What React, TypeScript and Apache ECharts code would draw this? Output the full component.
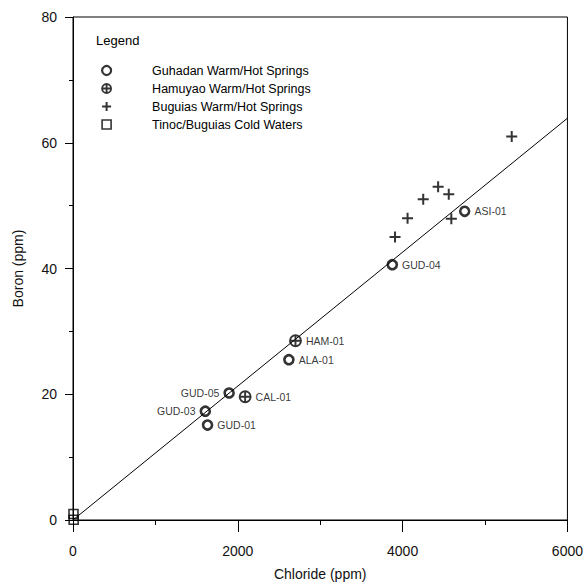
import React, { useEffect, useRef } from "react";
import * as echarts from "echarts";

// ---- Data ----
const guhadanNames = ["GUD-01", "GUD-03", "GUD-05", "ALA-01", "GUD-04", "ASI-01"];
const guhadanChloride = [1633, 1606, 1895, 2620, 3875, 4753];
const guhadanBoron = [15.1, 17.3, 20.2, 25.5, 40.6, 49.1];
const guhadanLabelSide = ["right", "left", "left", "right", "right", "right"];

const hamuyaoNames = ["HAM-01", "CAL-01"];
const hamuyaoChloride = [2700, 2089];
const hamuyaoBoron = [28.5, 19.6];

const buguiasChloride = [3908, 4060, 4250, 4431, 4560, 4591, 5324];
const buguiasBoron = [45.0, 48.0, 51.0, 53.0, 51.8, 47.9, 61.0];

const coldChloride = [6, 8];
const coldBoron = [0.95, 0.05];

const trendChloride = [0, 6000];
const trendBoron = [0, 63.9];

const seriesNames = [
  "Guhadan Warm/Hot Springs",
  "Hamuyao Warm/Hot Springs",
  "Buguias Warm/Hot Springs",
  "Tinoc/Buguias Cold Waters",
];

const xTicks = { min: 0, max: 6000, interval: 2000 };
const yTicks = { min: 0, max: 80, interval: 20 };

const CROSS_CIRCLE = "path://M0,5A5,5 0 1,1 10,5A5,5 0 1,1 0,5ZM0,5H10M5,0V10";
const PLUS = "path://M0,5H10M5,0V10";
const SQUARE = "path://M0,0H10V10H0Z";

const FONT = "Liberation Sans, Arial, Helvetica, sans-serif";

export default function App() {
  const ref = useRef<HTMLDivElement>(null);

  useEffect(() => {
    if (!ref.current) return;
    const chart = echarts.init(ref.current, undefined, { renderer: "svg" });

    const pts = (xs: number[], ys: number[], names?: string[]) =>
      xs.map((x, i) => ({ value: [x, ys[i]], name: names ? names[i] : "" }));

    const labelBase = {
      show: true,
      color: "#000",
      fontSize: 10.5,
      fontFamily: FONT,
      distance: 4,
    };

    const option: any = {
      animation: false,
      backgroundColor: "#fff",
      textStyle: { fontFamily: FONT },
      grid: {
        left: 73,
        top: 17,
        width: 497,
        height: 507,
        show: true,
        borderColor: "#000",
        borderWidth: 1,
        containLabel: false,
      },
      xAxis: {
        type: "value",
        min: xTicks.min,
        max: xTicks.max,
        interval: xTicks.interval,
        name: "Chloride (ppm)",
        nameLocation: "middle",
        nameGap: 47,
        nameTextStyle: { color: "#111", fontSize: 14, fontFamily: FONT },
        axisLine: { show: true, lineStyle: { color: "#000", width: 1 } },
        axisTick: { show: true, length: 12, lineStyle: { color: "#000" } },
        minorTick: { show: true, splitNumber: 2, length: 5, lineStyle: { color: "#000" } },
        splitLine: { show: false },
        axisLabel: {
          color: "#111",
          fontSize: 14,
          margin: 24,
          fontFamily: FONT,
          formatter: (v: number) => String(v),
        },
      },
      yAxis: {
        type: "value",
        min: yTicks.min,
        max: yTicks.max,
        interval: yTicks.interval,
        name: "Boron (ppm)",
        nameLocation: "middle",
        nameGap: 48,
        nameTextStyle: { color: "#111", fontSize: 14, fontFamily: FONT },
        axisLine: { show: true, lineStyle: { color: "#000", width: 1 } },
        axisTick: { show: true, length: 8, lineStyle: { color: "#000" } },
        minorTick: { show: true, splitNumber: 2, length: 4, lineStyle: { color: "#000" } },
        splitLine: { show: false },
        axisLabel: {
          color: "#111",
          fontSize: 14,
          margin: 16,
          fontFamily: FONT,
          formatter: (v: number) => String(v),
        },
      },
      legend: {
        orient: "vertical",
        left: 101,
        top: 64,
        padding: 0,
        itemWidth: 9,
        itemHeight: 9,
        itemGap: 5,
        selectedMode: false,
        textStyle: { color: "#000", fontSize: 12.5, fontFamily: FONT, padding: [0, 0, 0, 36] },
        data: [
          {
            name: seriesNames[0],
            icon: "circle",
            itemStyle: { color: "rgba(0,0,0,0)", borderColor: "#000", borderWidth: 2.2 },
          },
          {
            name: seriesNames[1],
            icon: CROSS_CIRCLE,
            itemStyle: { color: "rgba(0,0,0,0)", borderColor: "#000", borderWidth: 1.8 },
          },
          {
            name: seriesNames[2],
            icon: PLUS,
            itemStyle: { color: "rgba(0,0,0,0)", borderColor: "#000", borderWidth: 2 },
          },
          {
            name: seriesNames[3],
            icon: SQUARE,
            itemStyle: { color: "rgba(0,0,0,0)", borderColor: "#000", borderWidth: 1.6 },
          },
        ],
      },
      graphic: [
        {
          type: "text",
          left: 96,
          top: 34,
          style: { text: "Legend", fill: "#000", font: `13px ${FONT}` },
        },
      ],
      series: [
        {
          name: "trend",
          type: "line",
          data: trendChloride.map((x, i) => [x, trendBoron[i]]),
          showSymbol: false,
          symbol: "none",
          lineStyle: { color: "#000", width: 1 },
          silent: true,
          z: 1,
        },
        {
          name: seriesNames[0],
          type: "scatter",
          symbol: "circle",
          symbolSize: 9,
          itemStyle: { color: "rgba(0,0,0,0)", borderColor: "#000", borderWidth: 2.6 },
          data: guhadanChloride.map((x, i) => ({
            value: [x, guhadanBoron[i]],
            name: guhadanNames[i],
            label: { position: guhadanLabelSide[i] },
          })),
          label: { ...labelBase, formatter: "{b}" },
          z: 3,
        },
        {
          name: seriesNames[1],
          type: "scatter",
          symbol: CROSS_CIRCLE,
          symbolSize: 11,
          itemStyle: { color: "rgba(0,0,0,0)", borderColor: "#000", borderWidth: 1.9 },
          data: pts(hamuyaoChloride, hamuyaoBoron, hamuyaoNames),
          label: { ...labelBase, position: "right", formatter: "{b}" },
          z: 3,
        },
        {
          name: seriesNames[2],
          type: "scatter",
          symbol: PLUS,
          symbolSize: 11,
          itemStyle: { color: "rgba(0,0,0,0)", borderColor: "#000", borderWidth: 2 },
          data: pts(buguiasChloride, buguiasBoron),
          z: 3,
        },
        {
          name: seriesNames[3],
          type: "scatter",
          symbol: SQUARE,
          symbolSize: 9,
          clip: false,
          itemStyle: { color: "rgba(0,0,0,0)", borderColor: "#000", borderWidth: 1.6 },
          data: pts(coldChloride, coldBoron),
          z: 3,
        },
      ],
    };

    chart.setOption(option);
    return () => chart.dispose();
  }, []);

  return (
    <div
      ref={ref}
      style={{ position: "absolute", left: 0, top: 0, width: 586, height: 586 }}
    />
  );
}
